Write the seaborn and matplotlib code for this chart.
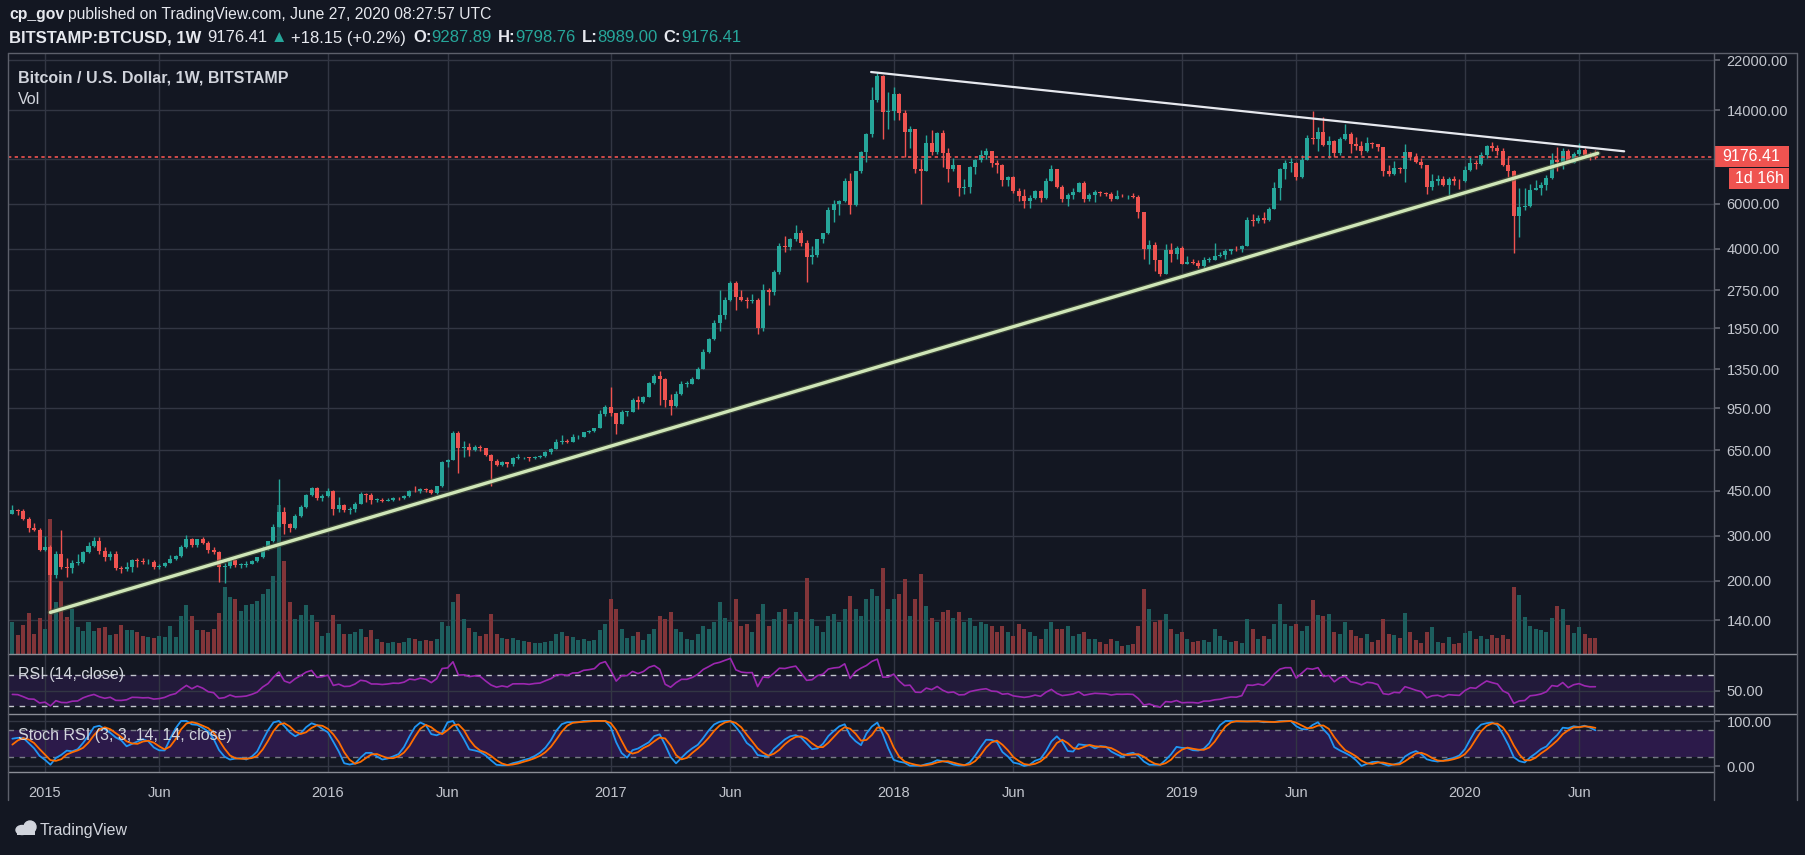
import numpy as np
import pandas as pd
import matplotlib
matplotlib.use("Agg")
import matplotlib.pyplot as plt
import seaborn as sns
from matplotlib.lines import Line2D
from matplotlib.patches import Rectangle, Ellipse

###############################################################################
# Data: BITSTAMP:BTCUSD weekly bars (week starting Monday)

first_week = "2014-11-24"
first_open = 365

# weekly closes before the first visible bar (only feed the RSI / Stoch RSI)
warmup_close = [210, 330, 490, 800, 1000, 880, 690, 650, 750, 900, 860, 830,
                800, 800, 680, 620, 560, 670, 620, 630,
                565, 475, 445, 420, 495, 435, 430, 440, 445, 575, 650, 655,
                590, 590, 600, 625, 630, 625, 595, 585, 590, 495, 505, 480,
                480, 475, 400, 375, 320, 385, 385, 355, 325, 365, 385, 365]

close = [
    # 2014
    378, 375, 350, 320, 317, 264,
    # 2015
    270, 210, 253, 226, 223, 234, 236, 259, 274, 285, 262, 247, 254,
    223, 222, 226, 240, 239, 236, 237, 227, 229, 234, 244, 250, 270,
    290, 275, 290, 280, 263, 258, 226, 229, 240, 230, 231, 233, 239,
    247, 268, 285, 325, 372, 332, 322, 358, 390, 434, 460, 422, 430,
    # 2016
    448, 382, 395, 378, 380, 400, 437, 432, 414, 414, 411, 415, 421,
    420, 428, 450, 447, 459, 455, 442, 468, 583, 594, 760, 660, 665,
    650, 665, 660, 624, 588, 568, 582, 573, 607, 608, 608, 604, 612,
    616, 637, 657, 700, 705, 700, 730, 732, 765, 775, 790, 900, 960,
    # 2017
    905, 820, 920, 920, 1020, 1000, 1050, 1190, 1270, 1230, 1020, 965, 1080,
    1180, 1180, 1240, 1350, 1580, 1770, 2050, 2200, 2520, 2950, 2600, 2520, 2500,
    2510, 1950, 2750, 2720, 3240, 4100, 4080, 4360, 4600, 4200, 3700, 3780, 4370,
    4600, 5700, 6000, 6150, 7400, 5950, 8050, 9600, 11250, 15300, 19000, 13800, 13880,
    # 2018
    16200, 13600, 11500, 11800, 8200, 8100, 10400, 9600, 11400, 9500, 8200, 8500, 6900,
    7000, 8350, 8900, 9350, 9650, 8700, 8550, 7450, 7650, 6750, 6450, 6150, 6350,
    6750, 6350, 7400, 8200, 7020, 6300, 6480, 6700, 7250, 6250, 6500, 6700, 6620,
    6580, 6300, 6450, 6420, 6450, 6400, 5600, 4000, 4150, 3600, 3200, 3950, 3830, 4030,
    # 2019
    3500, 3540, 3530, 3420, 3620, 3630, 3750, 3800, 3920, 4000, 3980, 4100, 5180,
    5150, 5300, 5200, 5750, 6950, 8200, 8700, 8700, 7650, 8950, 10850, 10750, 11450,
    10200, 10550, 9500, 10800, 11300, 10300, 10100, 9700, 10400, 10300, 10000, 8050, 7850,
    8300, 8200, 9550, 9200, 8800, 8500, 7000, 7400, 7500, 7100, 7500, 7400, 7350,
    # 2020
    8150, 8700, 8600, 9350, 10150, 9900, 9700, 8550, 8050, 5380, 5830, 5900, 6780,
    6900, 7120, 7550, 8900, 8750, 9700, 8720, 9450, 9750, 9340, 9158.26, 9176.41,
]

high = [
    395, 383, 380, 354, 335, 320,
    300, 275, 260, 315, 245, 240, 255, 262, 282, 296, 295, 270, 260,
    261, 228, 237, 244, 246, 245, 243, 241, 233, 237, 252, 251, 275,
    301, 294, 292, 297, 285, 270, 261, 235, 240, 244, 235, 238, 240,
    248, 272, 287, 334, 502, 390, 336, 366, 395, 435, 465, 465, 438,
    463, 455, 425, 400, 390, 405, 445, 440, 442, 420, 420, 420, 424,
    425, 432, 452, 468, 461, 462, 458, 470, 590, 600, 775, 770, 705,
    690, 680, 680, 660, 625, 598, 590, 585, 612, 628, 612, 610, 614,
    620, 642, 660, 720, 745, 720, 752, 745, 768, 777, 795, 935, 975,
    1150, 910, 930, 925, 1040, 1060, 1060, 1200, 1290, 1330, 1250, 1080, 1110,
    1215, 1215, 1260, 1370, 1620, 1790, 2100, 2760, 2600, 2990, 2980, 2760, 2600,
    2650, 2560, 2920, 2800, 3300, 4200, 4490, 4400, 4980, 4750, 4350, 4100, 4380,
    4620, 5860, 6200, 6200, 7600, 7900, 8100, 9700, 11400, 17200, 19666, 19200, 16500,
    17200, 16300, 14000, 12100, 11800, 9000, 11200, 11750, 11500, 11700, 9950, 9100, 8500,
    7500, 8450, 9000, 9750, 9950, 9700, 8900, 8600, 7750, 7750, 6900, 6850, 6500,
    6800, 6780, 7600, 8500, 8250, 7150, 6600, 6900, 7300, 7400, 6600, 6800, 6750,
    6680, 6700, 6800, 6550, 6500, 6600, 6500, 5600, 4350, 4250, 3600, 4180, 4200, 4100,
    4100, 3750, 3650, 3630, 3700, 3700, 4200, 3900, 4000, 4000, 4100, 4150, 5350,
    5500, 5450, 5600, 5850, 7300, 8300, 8900, 9050, 8800, 9300, 11200, 13880, 12000,
    13200, 11100, 10700, 10950, 12300, 11450, 10950, 10600, 10950, 10450, 10350, 10000, 8550,
    8850, 8400, 10350, 9600, 9500, 9100, 8500, 7850, 7800, 7700, 7650, 7700, 7500,
    8470, 9200, 8950, 9580, 10200, 10500, 10250, 9900, 9200, 8180, 6950, 6950, 7200,
    7470, 7300, 7800, 9470, 10050, 9950, 9850, 9600, 10400, 9950, 9600, 9798.76,
]

low = [
    364, 360, 345, 310, 312, 260,
    262, 152, 205, 222, 206, 215, 230, 234, 256, 270, 255, 238, 240,
    220, 215, 218, 216, 226, 232, 232, 222, 221, 226, 234, 240, 248,
    268, 270, 271, 278, 256, 255, 198, 195, 224, 227, 224, 225, 232,
    236, 245, 264, 282, 325, 305, 310, 318, 355, 385, 430, 415, 412,
    424, 360, 370, 370, 365, 370, 398, 406, 400, 405, 408, 410, 411,
    414, 418, 427, 443, 442, 443, 436, 437, 466, 560, 594, 530, 610,
    618, 642, 645, 614, 470, 565, 565, 560, 565, 600, 598, 590, 600,
    606, 612, 625, 655, 685, 690, 700, 718, 728, 755, 764, 790, 880,
    880, 750, 820, 885, 915, 940, 995, 1050, 1185, 975, 960, 890, 960,
    1070, 1150, 1180, 1240, 1350, 1560, 1760, 1900, 2120, 2490, 2300, 2500, 2350,
    2450, 1850, 1900, 2400, 2640, 3200, 3900, 3950, 4290, 4100, 2970, 3500, 3700,
    4200, 4580, 5100, 5450, 6100, 5500, 5900, 7900, 8800, 11000, 15000, 10800, 11800,
    12750, 12800, 9200, 9900, 7900, 6000, 8100, 9300, 9400, 8400, 7300, 8100, 6450,
    6550, 6650, 7850, 8750, 9000, 8350, 7950, 7050, 7050, 6650, 6150, 5800, 5800,
    6300, 6080, 6300, 7350, 6900, 6100, 5900, 6250, 6700, 6100, 6180, 6120, 6420,
    6450, 6150, 6300, 6380, 6250, 6350, 5300, 3650, 3500, 3260, 3120, 3200, 3550, 3650,
    3480, 3480, 3480, 3370, 3350, 3550, 3600, 3700, 3660, 3820, 3930, 3900, 4100,
    4920, 5050, 5050, 5150, 5750, 6200, 7500, 8000, 7450, 7600, 8900, 10300, 9700,
    10100, 9100, 9200, 9300, 10700, 9500, 9800, 9350, 9600, 9900, 9650, 7700, 7700,
    7800, 7900, 7300, 8900, 8700, 8300, 6550, 6800, 7100, 7050, 6450, 7100, 6850,
    7300, 8100, 8250, 8500, 9100, 9700, 9300, 8450, 7650, 3850, 4440, 5700, 5860,
    6780, 6500, 6800, 7500, 8100, 8200, 8700, 8650, 9250, 9250, 8950, 8989.00,
]

# weekly volume (relative units, as drawn)
volume = [
    32, 19, 29, 41, 20, 36,
    25, 135, 52, 73, 37, 45, 27, 23, 32, 23, 26, 27, 19,
    20, 29, 24, 24, 22, 18, 17, 16, 18, 17, 28, 17, 38,
    49, 38, 24, 24, 22, 25, 41, 67, 57, 55, 43, 49, 50,
    53, 60, 65, 78, 149, 93, 52, 35, 39, 49, 39, 32, 18,
    21, 39, 30, 20, 20, 22, 25, 17, 24, 15, 12, 11, 12,
    11, 12, 16, 15, 13, 14, 13, 15, 32, 28, 52, 60, 35,
    26, 22, 18, 20, 40, 20, 16, 15, 16, 14, 13, 12, 11,
    11, 12, 13, 20, 22, 18, 17, 14, 15, 13, 14, 24, 30,
    55, 45, 25, 16, 18, 22, 14, 20, 25, 38, 35, 42, 25,
    22, 15, 14, 20, 28, 25, 32, 52, 36, 32, 55, 28, 30,
    22, 40, 50, 28, 35, 42, 45, 30, 42, 35, 76, 35, 28,
    22, 38, 40, 32, 45, 58, 45, 38, 55, 65, 58, 86, 45,
    55, 60, 75, 38, 55, 80, 48, 36, 32, 42, 44, 36, 42,
    32, 36, 28, 32, 30, 28, 22, 28, 22, 18, 30, 25, 22,
    18, 15, 25, 32, 25, 25, 28, 18, 20, 22, 15, 15, 12,
    10, 15, 13, 8, 9, 10, 28, 65, 45, 32, 34, 40, 25, 20,
    22, 15, 12, 13, 14, 12, 25, 18, 14, 12, 13, 11, 35,
    25, 15, 18, 15, 30, 50, 30, 28, 30, 23, 28, 54, 39,
    38, 40, 22, 20, 32, 24, 18, 16, 20, 12, 14, 35, 20,
    19, 16, 41, 22, 14, 11, 22, 27, 12, 11, 17, 10, 11,
    21, 23, 15, 18, 15, 19, 16, 19, 15, 67, 59, 37, 28,
    25, 24, 22, 36, 48, 45, 29, 21, 27, 20, 16, 16,
]

# current (unfinished) bar as shown in the header
last_open = 9287.89
last_change = 18.15
last_pct = 0.2

price_ticks = [140, 200, 300, 450, 650, 950, 1350, 1950, 2750, 4000, 6000,
               9000, 14000, 22000]

# user trend lines: (date, price) anchors
resistance = [("2017-12-03", 19750), ("2020-07-29", 9650)]
support = [("2015-01-12", 150), ("2020-06-25", 9480)]

rsi_len = 14
rsi_levels = (30, 70)
stoch_levels = (20, 80)

###############################################################################
# Style

W, H = 1805, 855
BG = "#131722"
GRID = "#323643"
FRAME = "#5d606b"
TEXT = "#d1d4dc"
HEAD = "#e6e8ee"
AXTXT = "#c3c6ce"
UP, DOWN = "#26a69a", "#ef5350"
VOL_UP, VOL_DOWN = "#1d5e5e", "#813539"

sns.set_theme(style="dark", rc={
    "axes.facecolor": BG, "figure.facecolor": BG, "savefig.facecolor": BG,
    "axes.edgecolor": BG, "grid.color": GRID, "text.color": TEXT,
    "xtick.color": AXTXT, "ytick.color": AXTXT,
})
plt.rcParams["font.family"] = ["Liberation Sans", "DejaVu Sans"]

###############################################################################
# Bars and indicators

n = len(close)
x = np.arange(n)
dates = pd.date_range(first_week, periods=n, freq="7D")
opens = np.array([first_open] + close[:-1], dtype=float)
opens[-1] = last_open
c = np.array(close, dtype=float)
rising = c >= opens
col = np.where(rising, UP, DOWN)
vcol = np.where(rising, VOL_UP, VOL_DOWN)

def bar_pos(day):
    return (pd.Timestamp(day) - pd.Timestamp(first_week)).days / 7.0

all_close = pd.Series(warmup_close + close, dtype=float)
delta = all_close.diff()
gain = delta.clip(lower=0).ewm(alpha=1 / rsi_len, adjust=False).mean()
loss = (-delta.clip(upper=0)).ewm(alpha=1 / rsi_len, adjust=False).mean()
rsi = 100 - 100 / (1 + gain / loss)
lo, hi = rsi.rolling(14).min(), rsi.rolling(14).max()
stoch = 100 * (rsi - lo) / (hi - lo)
k = stoch.rolling(3).mean()
d = k.rolling(3).mean()
off = len(warmup_close)
ind = pd.DataFrame({"bar": x, "rsi": rsi.iloc[off:].to_numpy(),
                    "k": k.iloc[off:].to_numpy(), "d": d.iloc[off:].to_numpy()})

###############################################################################
# Layout (pixel rectangles -> figure fractions)

fig = plt.figure(figsize=(W / 100, H / 100), dpi=100)

def rect(top, bottom, left=8, right=1714):
    return [left / W, 1 - bottom / H, (right - left) / W, (bottom - top) / H]

ax_p = fig.add_axes(rect(53, 654))
ax_v = fig.add_axes(rect(53, 654), sharex=ax_p)
ax_c = fig.add_axes(rect(53, 654), sharex=ax_p)
ax_r = fig.add_axes(rect(654, 714), sharex=ax_p)
ax_s = fig.add_axes(rect(714, 772), sharex=ax_p)

xlim = (-0.8, 312.8)
ylim = (103, 23450)
for a in (ax_p, ax_c):
    a.set_yscale("log")
    a.set_ylim(*ylim)
ax_p.set_xlim(*xlim)

# time axis: first bar of every year and of every June
tick_pos, tick_lab = [], []
for i in range(1, n):
    if dates[i].year != dates[i - 1].year:
        tick_pos.append(i); tick_lab.append(str(dates[i].year))
    elif dates[i].month == 6 and dates[i - 1].month != 6:
        tick_pos.append(i); tick_lab.append("Jun")
ax_s.set_xticks(tick_pos, tick_lab)

for a in (ax_p, ax_r, ax_s):
    a.grid(True, axis="both", color=GRID, lw=1)
    a.set_axisbelow(True)
    for sp in a.spines.values():
        sp.set_visible(False)
    a.yaxis.tick_right()
    a.tick_params(axis="y", which="both", length=4, color=FRAME, pad=5,
                  labelsize=10.5, labelcolor=AXTXT, left=False, labelleft=False)
    a.tick_params(axis="x", length=0, labelbottom=False)
ax_s.tick_params(axis="x", labelbottom=True, labelsize=10.5, labelcolor=AXTXT, pad=10)

ax_p.yaxis.set_major_locator(matplotlib.ticker.FixedLocator(price_ticks))
ax_p.yaxis.set_minor_locator(matplotlib.ticker.NullLocator())
ax_p.set_yticklabels(["" if v == 9000 else f"{v:.2f}" for v in price_ticks])

# volume
ax_v.axis("off")
ax_v.bar(x, volume, width=0.74, color=vcol, linewidth=0)
ax_v.set_ylim(0, max(volume) * 4.03)

# candles
ax_c.axis("off")
ax_c.vlines(x, low, high, colors=col, lw=1)
body = np.maximum(np.abs(c - opens), np.minimum(c, opens) * 0.005)
ax_c.bar(x, body, bottom=np.minimum(c, opens), width=0.74, color=col, linewidth=0)
ax_c.set_ylim(*ylim)

# last price line
ax_c.axhline(close[-1], color=DOWN, lw=1.2, ls=(0, (2, 2)))

# trend lines
rx = [bar_pos(t) for t, _ in resistance]
ax_c.plot(rx, [p for _, p in resistance], color="#e6e8ee", lw=1.6,
          solid_capstyle="round")
sx = [bar_pos(t) for t, _ in support]
ax_c.plot(sx, [p for _, p in support], color="#4d5c3f", lw=4.2, alpha=0.6,
          solid_capstyle="round")
ax_c.plot(sx, [p for _, p in support], color="#cfe6b8", lw=2.4,
          solid_capstyle="round")

# RSI
ax_r.axhspan(*rsi_levels, color="#221a3a", lw=0, zorder=0)
for lv in rsi_levels:
    ax_r.axhline(lv, color="#c3c6ce", lw=1, ls=(0, (4, 4)))
sns.lineplot(data=ind, x="bar", y="rsi", ax=ax_r, color="#9c27b0", lw=1.2)
ax_r.set_ylim(19.7, 97.1)
ax_r.set_yticks([50], ["50.00"])

# Stoch RSI
ax_s.axhspan(*stoch_levels, color="#2c1a4a", lw=0, zorder=0)
for lv in stoch_levels:
    ax_s.axhline(lv, color="#787b86", lw=1, ls=(0, (4, 4)))
sns.lineplot(data=ind, x="bar", y="k", ax=ax_s, color="#2196f3", lw=1.3)
sns.lineplot(data=ind, x="bar", y="d", ax=ax_s, color="#ff6d00", lw=1.3)
ax_s.set_ylim(-13.3, 115.6)
ax_s.set_yticks([0, 100], ["0.00", "100.00"])

for a in (ax_p, ax_v, ax_c, ax_r, ax_s):
    a.set_xlabel("")
    a.set_ylabel("")
ax_p.set_xlim(*xlim)

###############################################################################
# Frame lines, labels, header

def fx(px):
    return px / W

def fy(py):
    return 1 - py / H

def hline(py, x0, x1, color=FRAME):
    fig.add_artist(Line2D([fx(x0), fx(x1)], [fy(py), fy(py)], color=color, lw=1))

def vline(px, y0, y1, color=FRAME):
    fig.add_artist(Line2D([fx(px), fx(px)], [fy(y0), fy(y1)], color=color, lw=1))

hline(53, 8, 1797)
hline(654, 8, 1797, "#8a8d96")
hline(714, 8, 1797, "#8a8d96")
hline(772, 8, 1714, "#8a8d96")
vline(8, 53, 800)
vline(1714, 53, 800)
vline(1797, 53, 800)

# price label on the axis
fig.add_artist(Rectangle((fx(1714), fy(167)), fx(75), 21 / H, color=DOWN, lw=0))
fig.text(fx(1751), fy(156.5), f"{close[-1]:.2f}", color="white", fontsize=11.5,
         ha="center", va="center")
fig.add_artist(Rectangle((fx(1729), fy(189)), fx(60), 21 / H, color=DOWN, lw=0))
fig.text(fx(1759), fy(178.5), "1d 16h", color="white", fontsize=11.5,
         ha="center", va="center")

fig.text(fx(18), fy(78), "Bitcoin / U.S. Dollar, 1W, BITSTAMP", color=TEXT,
         fontsize=11.5, fontweight="bold", va="center")
fig.text(fx(18), fy(100), "Vol", color=TEXT, fontsize=11.5, va="center")
fig.text(fx(18), fy(674), "RSI (14, close)", color=TEXT, fontsize=11.5, va="center")
fig.text(fx(18), fy(735), "Stoch RSI (3, 3, 14, 14, close)", color=TEXT,
         fontsize=11.5, va="center")

renderer = fig.canvas.get_renderer()

def text_row(parts, px, py, size):
    for s, color, weight, gap in parts:
        t = fig.text(fx(px), fy(py), s, color=color, fontsize=size,
                     fontweight=weight, va="center", ha="left")
        px += t.get_window_extent(renderer).width + gap

text_row([("cp_gov", HEAD, "bold", 4),
          ("published on TradingView.com, June 27, 2020 08:27:57 UTC", HEAD, "normal", 0)],
         9, 15, 11.3)

text_row([("BITSTAMP:BTCUSD, 1W", HEAD, "bold", 6),
          (f"{close[-1]:.2f}", HEAD, "normal", 3),
          ("\u25B2", UP, "normal", 4),
          (f"+{last_change:.2f} (+{last_pct:.1f}%)", HEAD, "normal", 7),
          ("O:", HEAD, "bold", 0), (f"{last_open:.2f}", UP, "normal", 6),
          ("H:", HEAD, "bold", 0), (f"{high[-1]:.2f}", UP, "normal", 6),
          ("L:", HEAD, "bold", 0), (f"{low[-1]:.2f}", UP, "normal", 6),
          ("C:", HEAD, "bold", 0), (f"{close[-1]:.2f}", UP, "normal", 0)],
         9, 38, 12)

# TradingView logo
fig.add_artist(Ellipse((fx(22), fy(830)), 12 / W, 9 / H, color=TEXT))
fig.add_artist(Ellipse((fx(30), fy(827)), 12 / W, 12 / H, color=TEXT))
fig.add_artist(Rectangle((fx(17), fy(835)), 18 / W, 5 / H, color=TEXT, lw=0))
fig.text(fx(40), fy(830), "TradingView", color=TEXT, fontsize=11.5, va="center")

fig.savefig("out.png", dpi=100, facecolor=BG)
